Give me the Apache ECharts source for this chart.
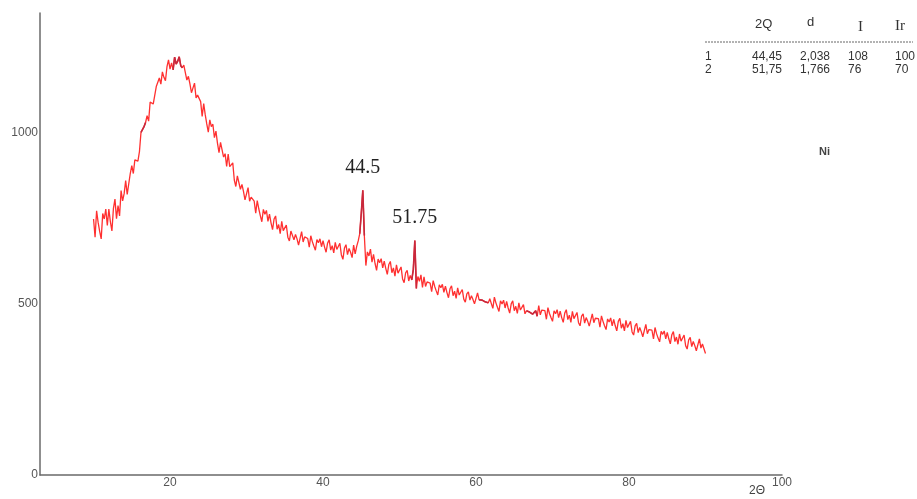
<!DOCTYPE html>
<html>
<head>
<meta charset="utf-8">
<script src="https://cdn.jsdelivr.net/npm/echarts@6/dist/echarts.min.js"></script>
<style>html,body{margin:0;padding:0;background:#fff;}#c{width:917px;height:499px;}</style>
</head>
<body>
<div id="c"></div>
<script>
// 2θ sampling grid (degrees)
var twoThetaStart = 10;
var twoThetaStep = 0.2;
// Intensity, one row per degree (10 .. 89), last value at 90
var intensity = [
748,695,772,738,712,
690,764,748,777,729,
777,740,713,779,806,
749,787,757,831,801,
822,860,820,819,881,
904,881,921,922,917,
945,1001,1005,1018,1030,
1050,1034,1090,1085,1084,
1085,1135,1135,1160,1142,
1178,1162,1152,1193,1213,
1186,1204,1184,1221,1201,
1209,1222,1196,1190,1198,
1195,1154,1165,1143,1117,
1115,1145,1102,1110,1105,
1091,1048,1085,1053,1026,
1002,1038,1018,1025,986,
1005,970,942,972,977,
929,939,902,938,901,
901,912,862,843,874,
876,835,849,829,804,
804,840,800,812,812,
800,765,802,778,758,
740,776,762,773,741,
762,737,717,748,757,
718,732,705,741,714,
716,730,695,684,713,
718,687,703,690,672,
677,711,681,696,699,
691,666,699,682,669,
657,688,679,690,667,
685,666,651,678,687,
657,670,649,680,659,
662,677,643,630,663,
673,644,662,651,635,
672,646,668,684,705,
765,832,700,612,652,
640,660,622,645,618,
598,631,620,632,605,
625,604,586,615,624,
591,605,581,614,590,
594,608,573,562,591,
598,567,583,570,600,
685,545,580,566,585,
548,579,551,564,566,
561,536,568,551,538,
526,556,547,557,534,
552,533,518,544,553,
524,537,516,547,526,
531,542,514,505,529,
535,511,524,513,500,
504,532,512,510,511,
508,506,507,503,515,
512,487,520,503,490,
478,509,500,511,488,
507,488,473,500,509,
480,493,472,503,482,
487,498,471,480,482,
476,478,470,468,480,
464,495,468,482,485,
480,455,489,472,460,
449,480,471,483,460,
479,460,446,473,483,
454,467,446,478,457,
462,475,445,436,464,
471,444,460,449,435,
440,471,445,458,462,
457,432,465,449,436,
425,456,447,459,436,
455,436,421,449,458,
429,442,421,452,431,
436,449,418,409,436,
443,416,431,419,404,
409,440,413,425,428,
423,398,431,413,400,
389,420,411,421,398,
417,398,383,410,419,
390,403,382,412,391,
396,409,378,368,395,
402,375,390,378,363,
368,398,371,383,386,
355
];
// stretches drawn in a darker red in the original
var darkRanges = [[16.2,16.8],[20.4,21.6],[44.8,45.4],[51.6,52.2],[60.4,61.6],[66.6,68.0]];
// peak annotations
var peakLabels = ['44.5','51.75'];
var peakPos = [45.2, 52.0];
var peakVal = [832, 685];
// axes
var xTicks = [20,40,60,80,100];
var xMin = 3, xMax = 100;
var yMin = 0, yMax = 1350, yStep = 500;
// table
var tableHeader = ['2Q','d','I','Ir'];
var tableRows = [
  ['1','44,45','2,038','108','100'],
  ['2','51,75','1,766','76','70']
];
var phaseName = 'Ni';

var mainData = intensity.map(function (v, i) {
  return [+(twoThetaStart + i * twoThetaStep).toFixed(2), v];
});
var darkData = mainData.map(function (p) {
  var inR = darkRanges.some(function (r) { return p[0] >= r[0] - 1e-6 && p[0] <= r[1] + 1e-6; });
  return inR ? p : [p[0], null];
});

var chart = echarts.init(document.getElementById('c'), null, {renderer: 'canvas'});
var font = '"Liberation Sans", Arial, sans-serif';
var serif = '"Liberation Serif", "Times New Roman", serif';

var graphics = [];
graphics.push({type:'text', left: 755, top: 18, style:{text: tableHeader[0], font:'13px ' + font, fill:'#333'}});
graphics.push({type:'text', left: 807, top: 16, style:{text: tableHeader[1], font:'13px ' + font, fill:'#333'}});
graphics.push({type:'text', left: 858, top: 20, style:{text: tableHeader[2], font:'15px ' + serif, fill:'#333'}});
graphics.push({type:'text', left: 895, top: 19, style:{text: tableHeader[3], font:'15px ' + serif, fill:'#333'}});
graphics.push({type:'line', shape:{x1:705, y1:42, x2:913, y2:42}, style:{stroke:'#666', lineWidth:1, lineDash:[2,1]}});
var colX = [705, 752, 800, 848, 895];
tableRows.forEach(function (row, r) {
  row.forEach(function (cell, c) {
    graphics.push({type:'text', left: colX[c], top: 51 + r * 13, style:{text: cell, font:'12px ' + font, fill:'#333'}});
  });
});
graphics.push({type:'text', left: 819, top: 146, style:{text: phaseName, font:'bold 11px ' + font, fill:'#444'}});
graphics.push({type:'text', left: 749, top: 485, style:{text: '2Θ', font:'12px ' + font, fill:'#444'}});

chart.setOption({
  animation: false,
  backgroundColor: '#fff',
  grid: {left: 40, right: 135, top: 13, bottom: 24, containLabel: false},
  xAxis: {
    type: 'value', min: xMin, max: xMax,
    axisLine: {show: true, onZero: false, lineStyle: {color: '#6a6a6a', width: 1.5}},
    axisTick: {show: false},
    splitLine: {show: false},
    axisLabel: {customValues: xTicks, color: '#555', fontFamily: font, fontSize: 12, margin: 2}
  },
  yAxis: {
    type: 'value', min: yMin, max: yMax, interval: yStep,
    axisLine: {show: true, lineStyle: {color: '#6a6a6a', width: 1.5}},
    axisTick: {show: false},
    splitLine: {show: false},
    axisLabel: {color: '#555', fontFamily: font, fontSize: 12, margin: 2, showMaxLabel: false,
      formatter: function (v) { return String(v); }}
  },
  series: [
    {
      type: 'line', data: mainData, showSymbol: false, symbol: 'none',
      lineStyle: {color: '#ff3030', width: 1.3},
      silent: true,
      markPoint: {
        symbol: 'circle', symbolSize: 0,
        data: peakLabels.map(function (t, i) {
          return {coord: [peakPos[i], peakVal[i]], value: t,
            label: {show: true, formatter: t, position: 'top', distance: 4, offset: [0, -9],
              color: '#222', fontFamily: serif, fontSize: 20}};
        })
      }
    },
    {
      type: 'line', data: darkData, showSymbol: false, symbol: 'none', connectNulls: false,
      lineStyle: {color: '#c8283c', width: 1.6},
      silent: true
    }
  ],
  graphic: graphics
});
</script>
</body>
</html>
